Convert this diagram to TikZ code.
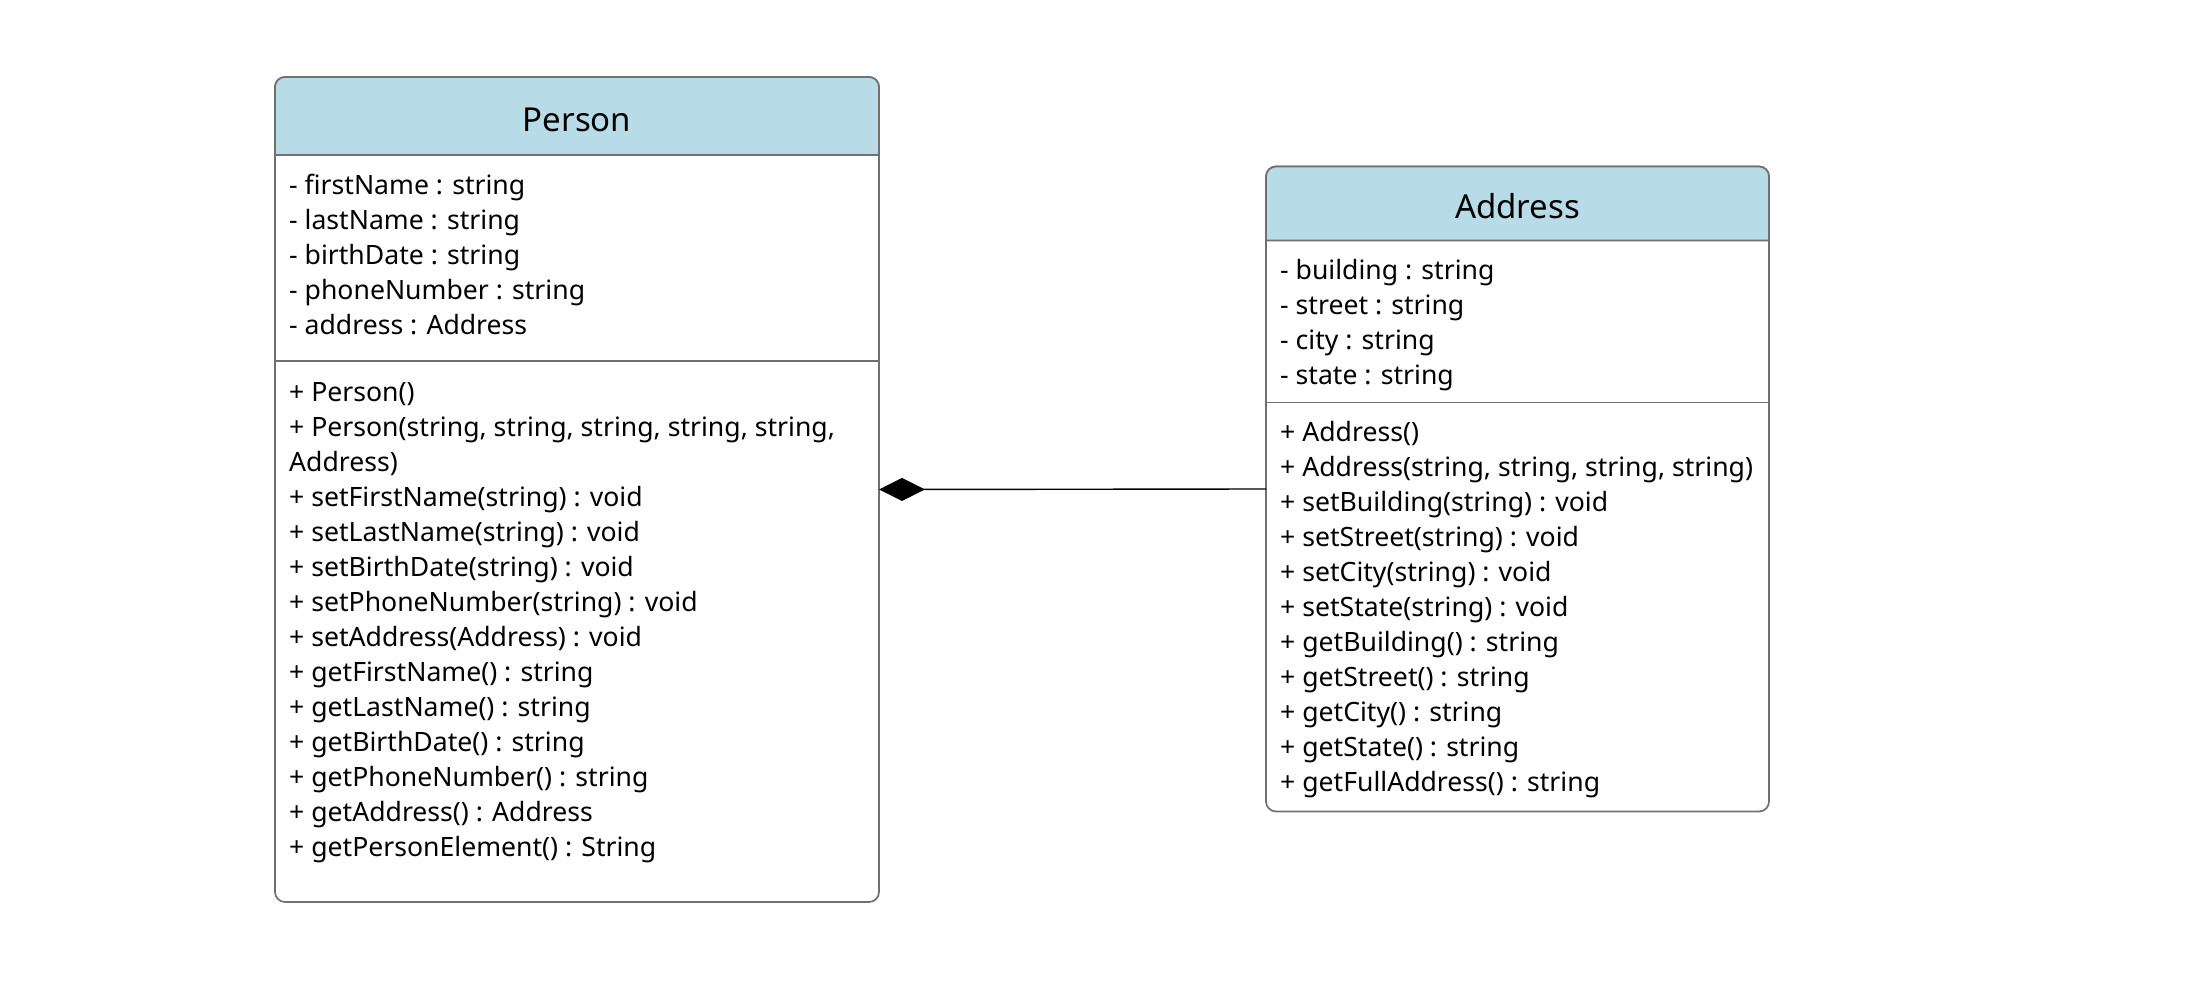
\documentclass[tikz,border=0pt]{standalone}
\usepackage{fontspec}
\setmainfont{Noto Sans}
\usetikzlibrary{arrows.meta}
\definecolor{headblue}{RGB}{183,220,231}
\definecolor{linegray}{RGB}{112,112,112}
\begin{document}
\begin{tikzpicture}[x=1pt, y=-1pt,
    classbox/.style = {draw=linegray, line width=1.7pt, rounded corners=10pt, inner sep=0pt, outer sep=0pt},
    header/.style = {fill=headblue, draw=linegray, line width=1.7pt},
    classline/.style = {draw=linegray, line width=1.7pt},
    classtitle/.style = {font=\fontsize{33}{38}\selectfont, inner sep=0pt, anchor=base},
    member/.style = {font=\fontsize{26.6}{32}\selectfont, inner sep=0pt, anchor=base west},
    comp/.style = {{Diamond[length=46pt, width=23pt]}-, line width=1.4pt, black}]
    \useasboundingbox (0,0) rectangle (2190,1008);

    % classes
    \node[classbox, minimum width=604pt, minimum height=825pt] (person) at (577,489.5) {};
    \node[classbox, minimum width=503pt, minimum height=645pt] (address) at (1517.5,489) {};

    % headers
    \filldraw[header] ([yshift=-78pt]person.north west) [rounded corners=10pt] -- (person.north west) -- (person.north east) [sharp corners] -- ([yshift=-78pt]person.north east) -- cycle;
    \filldraw[header] ([yshift=-74pt]address.north west) [rounded corners=10pt] -- (address.north west) -- (address.north east) [sharp corners] -- ([yshift=-74pt]address.north east) -- cycle;
    \node[classtitle] (persontitle) at ([yshift=-54.5pt]person.north) {Person};
    \node[classtitle] (addresstitle) at ([yshift=-52.5pt]address.north) {Address};

    % separators
    \draw[classline] ([yshift=-284pt]person.north west) -- ([yshift=-284pt]person.north east);
    \draw[classline] ([yshift=-236pt]address.north west) -- ([yshift=-236pt]address.north east);

    % Person members
    \foreach \m [count=\i from 0] in {- firstName : string, - lastName : string, - birthDate : string, - phoneNumber : string, - address : Address}
        \node[member] (pattr\i) at (289,194.5+35*\i) {\m};
    \foreach \m [count=\i from 0] in {+ Person(), {+ Person(string, string, string, string, string,}, Address), + setFirstName(string) : void, + setLastName(string) : void, + setBirthDate(string) : void, + setPhoneNumber(string) : void, + setAddress(Address) : void, + getFirstName() : string, + getLastName() : string, + getBirthDate() : string, + getPhoneNumber() : string, + getAddress() : Address, + getPersonElement() : String}
        \node[member] (pop\i) at (289,401.5+35*\i) {\m};

    % Address members
    \foreach \m [count=\i from 0] in {- building : string, - street : string, - city : string, - state : string}
        \node[member] (aattr\i) at (1280,279.5+35*\i) {\m};
    \foreach \m [count=\i from 0] in {+ Address(), {+ Address(string, string, string, string)}, + setBuilding(string) : void, + setStreet(string) : void, + setCity(string) : void, + setState(string) : void, + getBuilding() : string, + getStreet() : string, + getCity() : string, + getState() : string, + getFullAddress() : string}
        \node[member] (aop\i) at (1280,441.5+35*\i) {\m};

    % composition
    \draw[comp] (person.east) -- (address.west);
\end{tikzpicture}
\end{document}
